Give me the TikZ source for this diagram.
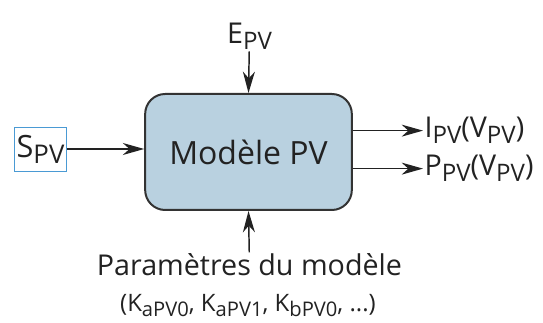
\documentclass[tikz,border=0pt]{standalone}
\usepackage{fontspec}
\setmainfont{Open Sans}
\usepackage{tikz}
\usetikzlibrary{arrows.meta,positioning,calc}
\definecolor{modelfill}{HTML}{B9D1E0}
\definecolor{modelline}{HTML}{333333}
\definecolor{inputblue}{HTML}{4A9AD4}
\definecolor{textgray}{HTML}{222222}
\newcommand{\ind}[1]{\raisebox{-0.2em}{\scalebox{0.84}{#1}}}

\begin{document}
\begin{tikzpicture}[
  x=0.75pt,y=-0.75pt,
  model/.style={draw=modelline,line width=1.5pt,fill=modelfill,rounded corners=15pt,
                minimum width=155pt,minimum height=87pt,
                font=\fontsize{24}{28}\selectfont,text=textgray},
  inbox/.style={draw=inputblue,line width=0.6pt,minimum width=39.5pt,minimum height=33pt,
                inner sep=0pt,font=\fontsize{23}{28}\selectfont,text=textgray},
  lab/.style={font=\fontsize{21.5}{26}\selectfont,text=textgray,inner sep=1pt},
  small/.style={font=\fontsize{18}{22}\selectfont,text=textgray,inner sep=1pt},
  flow/.style={-{Stealth[length=16pt,width=9pt,inset=5pt]},line width=1.1pt,draw=textgray}
]
  \useasboundingbox (0,0) rectangle (543,323);

  \node[model] (pv) at (248.5,152) {Modèle PV};
  \node[inbox] (spv) at (40.5,149) {S\ind{PV}};

  \node[lab,anchor=base] (epv) at (249.5,44) {E\ind{PV}};
  \node[lab,anchor=base west] (ipv) at (423,138) {I\ind{PV}(V\ind{PV})};
  \node[lab,anchor=base west] (ppv) at (423,176) {P\ind{PV}(V\ind{PV})};

  \node[lab,anchor=base] (param) at (249.5,276) {Paramètres du modèle};
  \node[small,anchor=base] (kval) at (248,312) {(K\ind{aPV0}, K\ind{aPV1}, K\ind{bPV0}, ...)};

  \draw[flow] (spv) -- (spv -| pv.west);
  \draw[flow] (epv) -- (pv.north);
  \draw[flow] (param) -- (pv.south);
  \draw[flow] (pv.east |- ipv) -- (ipv);
  \draw[flow] (pv.east |- ppv) -- (ppv);
\end{tikzpicture}
\end{document}
